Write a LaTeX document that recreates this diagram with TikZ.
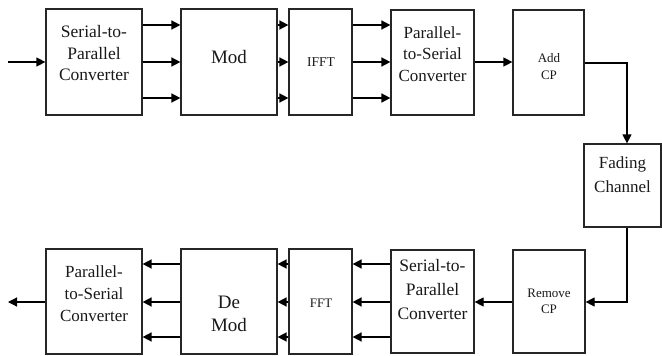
\documentclass[tikz,border=0pt]{standalone}
\usepackage{fontspec}
\setmainfont{Liberation Serif}
\usetikzlibrary{arrows.meta}
\tikzset{
  blk/.style={draw=black!85, line width=1.2pt, rectangle, inner sep=0pt},
  txt/.style={inner sep=0pt, align=center, text=black!90},
  arr/.style={line width=1.6pt, -{Triangle[length=9pt,width=9pt]}},
  thinarr/.style={line width=1.2pt, -{Triangle[length=9pt,width=9pt]}},
}
\newcommand{\fs}[2]{\fontsize{#1}{#2}\selectfont}
\begin{document}
\begin{tikzpicture}[x=1pt,y=-1pt]
\useasboundingbox (0,0) rectangle (662,356);
% boxes
\node[blk, minimum width=96pt, minimum height=106pt] (sp1) at (94,62) {};
\node[blk, minimum width=96pt, minimum height=106pt] (mod) at (229,62) {};
\node[blk, minimum width=63pt, minimum height=106pt] (ifft) at (320.5,62) {};
\node[blk, minimum width=83pt, minimum height=105pt] (ps1) at (432.5,62.5) {};
\node[blk, minimum width=71pt, minimum height=105pt] (add) at (548.5,62.5) {};
\node[blk, minimum width=77pt, minimum height=83pt] (fad) at (622.5,185.5) {};
\node[blk, minimum width=72pt, minimum height=103pt] (rem) at (549,301.5) {};
\node[blk, minimum width=83pt, minimum height=103pt] (sp2) at (432.5,301.5) {};
\node[blk, minimum width=63pt, minimum height=105pt] (fft) at (320.5,301.5) {};
\node[blk, minimum width=96pt, minimum height=105pt] (dem) at (229,301.5) {};
\node[blk, minimum width=96pt, minimum height=105pt] (ps2) at (94,301.5) {};
% texts
\node[txt, font=\fs{17.5}{21.5}] (t1) at (94,53.5) {Serial-to-\\Parallel\\Converter};
\node[txt, font=\fs{19}{23}] (t2) at (229,57) {Mod};
\node[txt, font=\fs{13.5}{16}] (t3) at (321,62) {IFFT};
\node[txt, font=\fs{17}{21.5}] (t4) at (432.5,54) {Parallel-\\to-Serial\\Converter};
\node[txt, font=\fs{13}{17}] (t5) at (549,66.5) {Add\\CP};
\node[txt, font=\fs{17}{24}] (t6) at (622.5,175) {Fading\\Channel};
\node[txt, font=\fs{13}{16}] (t7) at (549,301) {Remove\\CP};
\node[txt, font=\fs{17.5}{24}] (t8) at (432.5,290) {Serial-to-\\Parallel\\Converter};
\node[txt, font=\fs{13}{16}] (t9) at (321,303) {FFT};
\node[txt, font=\fs{19}{23}] (t10) at (229,313.5) {De\\Mod};
\node[txt, font=\fs{17}{22}] (t11) at (94,294) {Parallel-\\to-Serial\\Converter};
% row coordinates
\coordinate (ra) at (0,25);
\coordinate (rb) at (0,62);
\coordinate (rc) at (0,98);
\coordinate (rd) at (0,264);
\coordinate (re) at (0,302);
\coordinate (rf) at (0,337);
\coordinate (rg) at (0,63);
\coordinate (in) at (8,62);
\coordinate (out) at (8,302);
\coordinate (cx) at (627,0);
% top row
\draw[thinarr] (in) -- (sp1.west);
\foreach \r in {ra,rb,rc}{
  \draw[arr] (sp1.east |- \r) -- (mod.west |- \r);
  \draw[arr] (mod.east |- \r) -- (ifft.west |- \r);
  \draw[arr] (ifft.east |- \r) -- (ps1.west |- \r);
}
\draw[thinarr] (ps1.east |- rb) -- (add.west |- rb);
\draw[thinarr] (add.east |- rg) -| (cx |- fad.north);
\draw[thinarr] (cx |- fad.south) |- (rem.east |- re);
\draw[thinarr] (rem.west |- re) -- (sp2.east |- re);
\foreach \r in {rd,re,rf}{
  \draw[arr] (sp2.west |- \r) -- (fft.east |- \r);
  \draw[arr] (fft.west |- \r) -- (dem.east |- \r);
  \draw[arr] (dem.west |- \r) -- (ps2.east |- \r);
}
\draw[thinarr] (ps2.west |- re) -- (out);
\end{tikzpicture}
\end{document}
